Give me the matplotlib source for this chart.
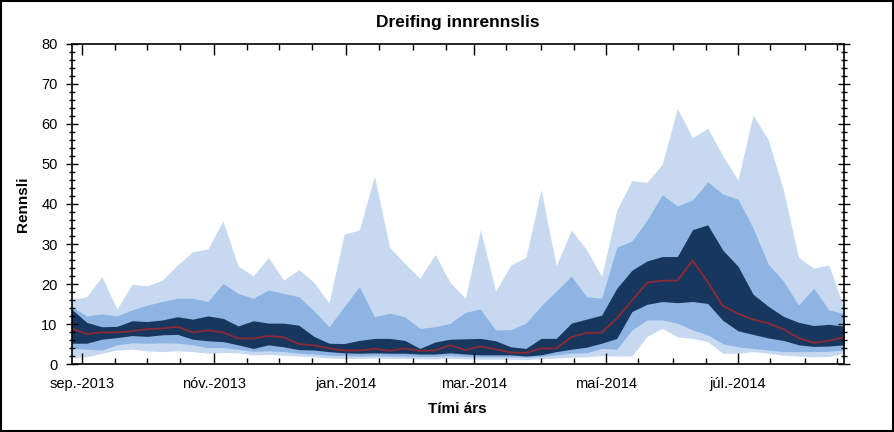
import numpy as np
import pandas as pd
import matplotlib
matplotlib.use("Agg")
import matplotlib.pyplot as plt
import matplotlib.dates as mdates
from matplotlib.ticker import MultipleLocator, FuncFormatter
from matplotlib.patches import Rectangle

# vikuleg gögn, frá lok ágúst 2013
dates = pd.date_range("2013-08-27", periods=52, freq="7D")

q_max = [16.1, 16.9, 21.9, 13.8, 20.0, 19.6, 21.0, 24.8, 28.1, 28.8, 35.8, 24.5, 22.1,
         26.7, 21.0, 23.7, 20.5, 15.3, 32.5, 33.5, 47.0, 29.2, 25.2, 21.5, 27.4, 20.4,
         16.5, 33.6, 18.3, 24.8, 26.7, 43.6, 24.6, 33.5, 28.6, 21.9, 38.5, 45.8, 45.4,
         49.9, 63.8, 56.5, 58.9, 52.0, 46.0, 62.2, 56.0, 43.5, 26.7, 24.0, 24.8, 14.0]
q90 = [14.4, 12.1, 12.6, 12.1, 13.6, 14.8, 15.7, 16.5, 16.5, 15.7, 20.2, 17.7, 16.5,
       18.6, 17.7, 16.9, 13.4, 9.4, 14.4, 19.4, 11.9, 12.8, 11.9, 9.0, 9.4, 10.3,
       13.0, 13.8, 8.6, 8.7, 10.3, 14.6, 18.3, 22.0, 16.9, 16.5, 29.2, 30.8, 36.0,
       42.3, 39.5, 41.0, 45.5, 42.5, 41.2, 34.0, 25.0, 20.8, 14.8, 19.0, 13.6, 12.7]
q75 = [13.8, 10.5, 9.4, 9.5, 10.9, 10.7, 11.1, 11.9, 11.3, 12.1, 11.5, 9.6, 10.9,
       10.3, 10.3, 9.8, 7.0, 5.3, 5.2, 6.0, 6.5, 6.5, 6.0, 4.0, 5.6, 6.3,
       6.4, 6.5, 5.9, 4.4, 4.0, 6.5, 6.5, 10.3, 11.3, 12.3, 19.0, 23.5, 25.8,
       26.9, 26.9, 33.6, 34.8, 28.5, 24.5, 17.5, 14.5, 12.0, 10.5, 9.7, 10.0, 9.6]
q50 = [9.0, 7.6, 8.0, 8.0, 8.3, 8.8, 9.0, 9.4, 8.0, 8.5, 8.0, 6.5, 6.5,
       7.1, 6.8, 5.1, 4.8, 4.0, 3.5, 3.5, 3.9, 3.4, 4.0, 3.4, 3.5, 4.8,
       3.6, 4.5, 3.8, 3.0, 2.9, 4.0, 4.0, 6.8, 7.9, 7.9, 11.5, 15.9, 20.4,
       20.9, 20.9, 25.9, 20.6, 14.6, 12.7, 11.2, 10.3, 8.8, 6.6, 5.4, 5.9, 6.8]
q25 = [5.3, 5.3, 6.3, 6.7, 7.2, 7.0, 7.4, 7.5, 6.3, 5.9, 5.7, 4.9, 4.0,
       4.9, 4.4, 3.7, 3.6, 3.2, 2.9, 2.8, 2.9, 2.8, 2.8, 2.6, 2.6, 2.9,
       2.6, 2.4, 2.4, 2.4, 2.1, 2.4, 3.2, 3.8, 4.3, 5.3, 6.5, 13.2, 15.0,
       15.7, 15.4, 15.7, 15.2, 11.0, 8.4, 7.5, 6.6, 6.0, 4.9, 4.5, 4.6, 4.9]
q10 = [4.0, 3.8, 3.6, 4.9, 5.4, 5.3, 5.4, 5.3, 4.9, 4.2, 4.2, 3.8, 3.3,
       3.4, 3.2, 2.8, 2.6, 2.3, 2.2, 2.1, 2.2, 2.1, 2.1, 2.0, 2.0, 2.2,
       2.0, 1.9, 1.9, 1.9, 1.8, 2.0, 2.4, 2.8, 2.9, 4.0, 3.8, 8.6, 11.1,
       11.1, 10.3, 8.6, 7.4, 5.2, 4.4, 4.0, 3.6, 3.2, 3.2, 3.2, 3.3, 3.6]
q_min = [1.8, 1.9, 2.8, 3.6, 3.8, 3.4, 3.2, 3.4, 3.2, 2.8, 3.0, 2.9, 2.4,
         2.5, 2.3, 2.1, 1.9, 1.6, 1.5, 1.5, 1.6, 1.5, 1.5, 1.4, 1.4, 1.5,
         1.4, 1.3, 1.3, 1.3, 1.2, 1.4, 1.6, 1.8, 1.9, 2.2, 2.1, 2.1, 7.0,
         9.0, 6.9, 6.5, 5.7, 2.8, 2.8, 3.2, 2.8, 2.3, 2.1, 1.9, 2.0, 2.8]

manudir = ["jan.", "feb.", "mar.", "apr.", "maí", "jún.", "júl.", "ágú.",
           "sep.", "okt.", "nóv.", "des."]

plt.rcParams["font.family"] = ["Liberation Sans", "DejaVu Sans"]

fig = plt.figure(figsize=(8.95, 4.32), dpi=100)
ax = fig.add_axes([0.0799, 0.1563, 0.8631, 0.743])

# bönd: lágm-hám, 10-90, 25-75 og miðgildi
ax.fill_between(dates, q_min, q_max, color="#C6D9F1", lw=0)
ax.fill_between(dates, q10, q90, color="#8DB4E2", lw=0)
ax.fill_between(dates, q25, q75, color="#17375E", lw=0)
ax.plot(dates, q50, color="#8E2A36", lw=1.3)

ax.set_xlim(dates[0], dates[-1])
ax.set_ylim(0, 80)

ax.xaxis.set_major_locator(mdates.MonthLocator(bymonth=[1, 3, 5, 7, 9, 11]))
ax.xaxis.set_minor_locator(mdates.MonthLocator(bymonthday=[1, 16]))
ax.xaxis.set_major_formatter(FuncFormatter(
    lambda v, p: manudir[mdates.num2date(v).month - 1] + "-" + str(mdates.num2date(v).year)))
ax.yaxis.set_major_locator(MultipleLocator(10))
ax.yaxis.set_minor_locator(MultipleLocator(2))

ax.tick_params(axis="y", which="major", left=True, right=True, direction="inout",
               length=8, width=1, labelsize=10.5, pad=6)
ax.tick_params(axis="y", which="minor", left=True, right=True, direction="inout",
               length=5, width=1)
ax.tick_params(axis="x", which="major", top=True, bottom=True, direction="in",
               length=8, width=1, labelsize=10.5, pad=9)
ax.tick_params(axis="x", which="minor", top=True, bottom=True, direction="in",
               length=4, width=1)
for s in ax.spines.values():
    s.set_linewidth(1.2)

ax.set_title("Dreifing innrennslis", fontsize=12.5, fontweight="bold", pad=12)
ax.set_ylabel("Rennsli", fontsize=11, fontweight="bold", labelpad=8)
ax.set_xlabel("Tími árs", fontsize=11, fontweight="bold", labelpad=8)

# rammi utan um myndina
fig.patches.append(Rectangle((0.001, 0.002), 0.997, 0.996, transform=fig.transFigure,
                             fill=False, edgecolor="black", lw=1.5))

fig.savefig("out.png", dpi=100)
